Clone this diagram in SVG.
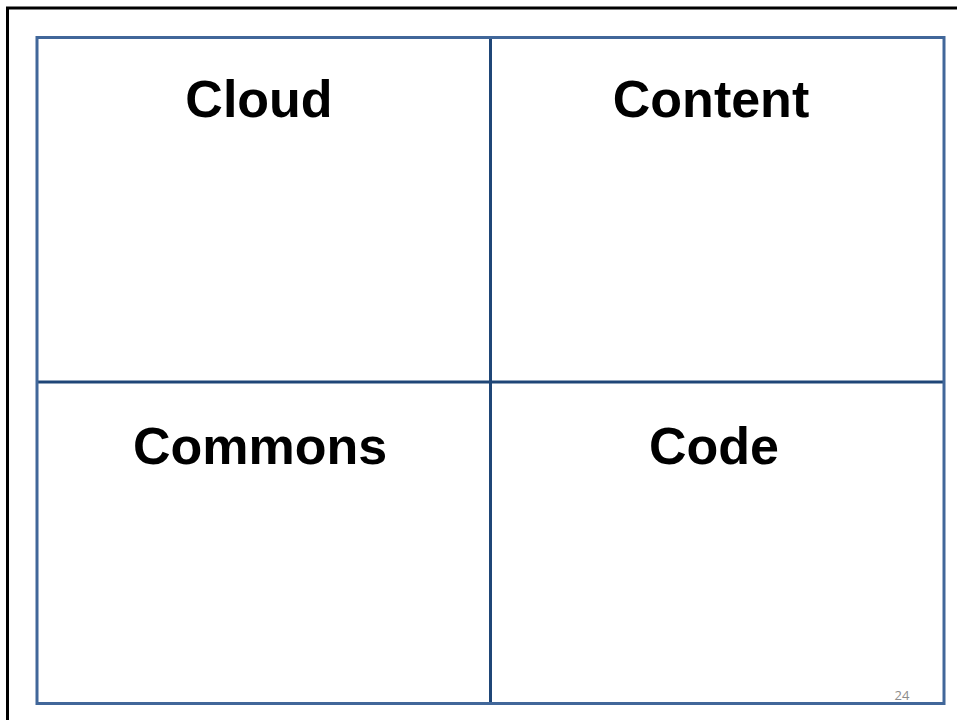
<svg xmlns="http://www.w3.org/2000/svg" width="957" height="720" viewBox="0 0 957 720">
<style>
.lbl{font-family:"Liberation Sans",Arial,sans-serif;font-weight:bold;font-size:52px;fill:#000;text-anchor:middle}
.grid{stroke:#1f4677;stroke-width:3;fill:none}
.outer{stroke:#41679a;stroke-width:3;fill:none}
</style>
<rect width="957" height="720" fill="#fff"/>
<path d="M7.5 720 V8 H957" stroke="#000" stroke-width="3" fill="none"/>
<g id="table">
<line class="grid" x1="490.5" y1="38" x2="490.5" y2="704"/>
<line class="grid" x1="37" y1="382" x2="944" y2="382"/>
<rect class="outer" x="37" y="37.5" width="907" height="666"/>
</g>
<g id="cloud"><text class="lbl" x="259" y="117">Cloud</text></g>
<g id="content"><text class="lbl" x="711" y="117">Content</text></g>
<g id="commons"><text class="lbl" x="260" y="464">Commons</text></g>
<g id="code"><text class="lbl" x="714" y="464">Code</text></g>
<text x="902" y="700" font-family="'Open Sans',sans-serif" font-size="13" fill="#8c8c8c" text-anchor="middle">24</text>
</svg>
